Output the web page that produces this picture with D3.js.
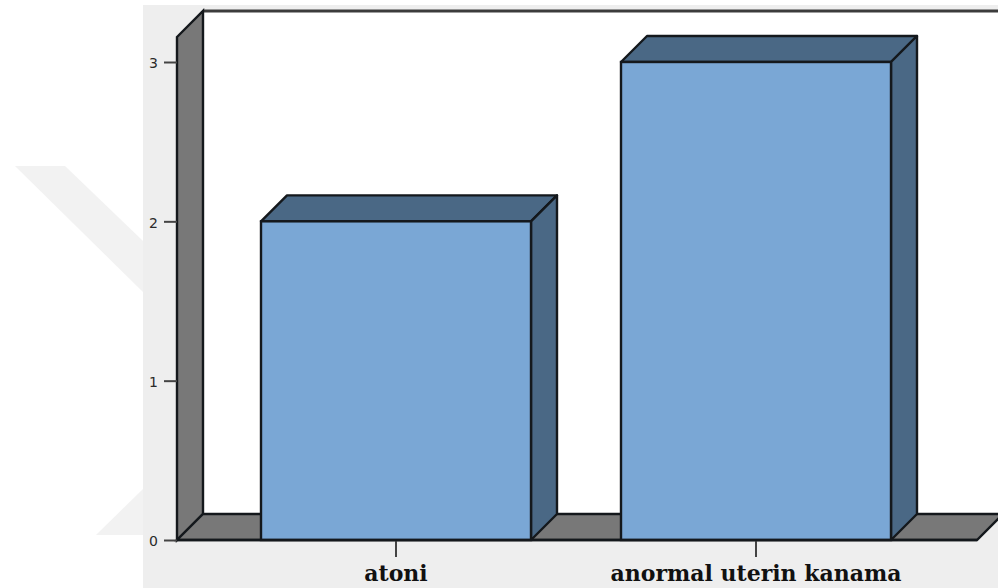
<!DOCTYPE html>
<html>
<head>
<meta charset="utf-8">
<script src="https://cdn.jsdelivr.net/npm/d3@7"></script>
<style>
html,body{margin:0;padding:0;background:#fff}
svg{display:block}
</style>
</head>
<body>
<svg id="chart" width="998" height="588"></svg>
<script>
// Counts per category
const categories = ["atoni", "anormal uterin kanama"];
const counts = [2, 3];
const yTicks = [0, 1, 2, 3];

const depth = 26;
const colors = {
  page: "#eeeeee", plot: "#ffffff", wall: "#787878",
  front: "#7aa7d5", side: "#4a6885", line: "#14181c", tick: "#444444"
};
const strokeW = 2.4;

const svg = d3.select("#chart");
const y = d3.scaleLinear().domain([0, 3]).range([540, 62]);
const x = d3.scaleBand().domain(categories).range([216, 936])
  .paddingInner(0.25).paddingOuter(0.125);

const left = 177, right = 977, floorY = y(0), ceilY = 37;
const pts = a => a.map(p => p.join(",")).join(" ");

// Background panel and the faint diagonal mark beside it
svg.append("polygon").attr("points", pts([[15,166],[65,166],[143,241],[143,292]])).attr("fill", "#f2f2f2");
svg.append("polygon").attr("points", pts([[96,535],[143,489],[143,535]])).attr("fill", "#f2f2f2");
svg.append("rect").attr("x", 143).attr("y", 5).attr("width", 855).attr("height", 583).attr("fill", colors.page);

// Back wall
svg.append("rect").attr("x", left + depth).attr("y", ceilY - depth)
  .attr("width", 998 - left - depth).attr("height", floorY - ceilY)
  .attr("fill", colors.plot);
svg.append("line").attr("x1", left + depth).attr("x2", 998)
  .attr("y1", ceilY - depth).attr("y2", ceilY - depth)
  .attr("stroke", "#3c3c3c").attr("stroke-width", 3);

// Side wall and floor
svg.append("polygon")
  .attr("points", pts([[left,ceilY],[left+depth,ceilY-depth],[left+depth,floorY-depth],[left,floorY]]))
  .attr("fill", colors.wall).attr("stroke", colors.line).attr("stroke-width", strokeW);
svg.append("polygon")
  .attr("points", pts([[left,floorY],[left+depth,floorY-depth],[right+depth,floorY-depth],[right,floorY]]))
  .attr("fill", colors.wall).attr("stroke", colors.line).attr("stroke-width", strokeW);

// Bars: top, side and front faces
const bars = svg.append("g").selectAll("g")
  .data(categories.map((c, i) => ({ c, v: counts[i] })))
  .join("g");

bars.append("polygon")
  .attr("points", d => { const a = x(d.c), b = a + x.bandwidth(), t = y(d.v);
    return pts([[a,t],[a+depth,t-depth],[b+depth,t-depth],[b,t]]); })
  .attr("fill", colors.side).attr("stroke", colors.line).attr("stroke-width", strokeW).attr("stroke-linejoin", "round");
bars.append("polygon")
  .attr("points", d => { const b = x(d.c) + x.bandwidth(), t = y(d.v);
    return pts([[b,t],[b+depth,t-depth],[b+depth,y(0)-depth],[b,y(0)]]); })
  .attr("fill", colors.side).attr("stroke", colors.line).attr("stroke-width", strokeW).attr("stroke-linejoin", "round");
bars.append("rect")
  .attr("x", d => x(d.c)).attr("y", d => y(d.v))
  .attr("width", x.bandwidth()).attr("height", d => y(0) - y(d.v))
  .attr("fill", colors.front).attr("stroke", colors.line).attr("stroke-width", strokeW);

// Axes
const yAxis = d3.axisLeft(y).tickValues(yTicks).tickFormat(d3.format("d")).tickSize(13).tickPadding(6);
const gy = svg.append("g").attr("transform", `translate(${left},0)`).call(yAxis);
gy.select(".domain").remove();
gy.selectAll("line").attr("stroke", colors.tick).attr("stroke-width", 2);
gy.selectAll("text").attr("font-family", "'DejaVu Sans'").attr("font-size", 14)
  .attr("fill", "#2a2a2a").attr("dy", "0.42em");

const xAxis = d3.axisBottom(x).tickSize(17).tickPadding(8);
const gx = svg.append("g").attr("transform", `translate(0,${floorY})`).call(xAxis);
gx.select(".domain").remove();
gx.selectAll("line").attr("stroke", colors.tick).attr("stroke-width", 2);
gx.selectAll("text").attr("font-family", "'DejaVu Serif'").attr("font-weight", "bold")
  .attr("font-size", 22).attr("fill", "#111");

svg.append("line").attr("x1", left).attr("x2", right).attr("y1", floorY).attr("y2", floorY)
  .attr("stroke", colors.line).attr("stroke-width", strokeW);
</script>
</body>
</html>
